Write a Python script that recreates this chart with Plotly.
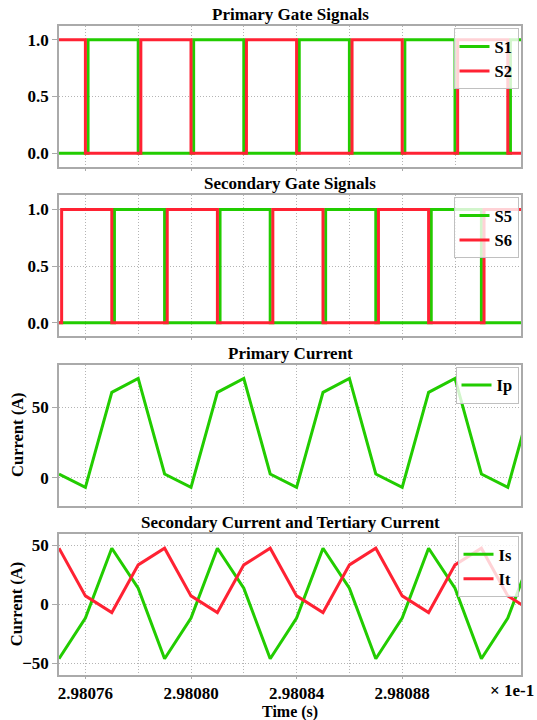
import plotly.graph_objects as go
from plotly.subplots import make_subplots

# ---------------- data (time in units of 1e-1 s) ----------------
# Primary gate signals (step transitions)
t_s1 = [2.98075, 2.980761, 2.98078, 2.980801, 2.98082, 2.980841, 2.98086,
        2.980881, 2.98090, 2.980921, 2.98093]
s1 = [0, 1, 0, 1, 0, 1, 0, 1, 0, 1, 1]
t_s2 = [2.98075, 2.98076, 2.980781, 2.98080, 2.980821, 2.98084, 2.980861,
        2.98088, 2.980901, 2.98092, 2.98093]
s2 = [1, 0, 1, 0, 1, 0, 1, 0, 1, 0, 0]

# Secondary gate signals
t_s5 = [2.98075, 2.980771, 2.98079, 2.980811, 2.98083, 2.980851, 2.98087,
        2.980891, 2.98091, 2.98093]
s5 = [0, 1, 0, 1, 0, 1, 0, 1, 0, 0]
t_s6 = [2.98075, 2.980751, 2.98077, 2.980791, 2.98081, 2.980831, 2.98085,
        2.980871, 2.98089, 2.980911, 2.98093]
s6 = [0, 1, 0, 1, 0, 1, 0, 1, 0, 1, 1]

# Currents sampled every 1e-5 (x 1e-1 s)
t_cur = [2.98075, 2.98076, 2.98077, 2.98078, 2.98079, 2.98080, 2.98081,
         2.98082, 2.98083, 2.98084, 2.98085, 2.98086, 2.98087, 2.98088,
         2.98089, 2.98090, 2.98091, 2.98092, 2.98093]
ip = [2.8, -6.6, 60.6, 70.5, 2.8, -6.6, 60.6, 70.5, 2.8, -6.6, 60.6, 70.5,
      2.8, -6.6, 60.6, 70.5, 2.8, -6.6, 60.6]
i_s = [-46.2, -11.8, 47.3, 13.5, -46.2, -11.8, 47.3, 13.5, -46.2, -11.8,
       47.3, 13.5, -46.2, -11.8, 47.3, 13.5, -46.2, -11.8, 47.3]
i_t = [47.3, 7.0, -7.1, 33.2, 47.3, 7.0, -7.1, 33.2, 47.3, 7.0, -7.1, 33.2,
       47.3, 7.0, -7.1, 33.2, 47.3, 7.0, -7.1]

x_tickvals = [2.98076, 2.98080, 2.98084, 2.98088]
x_ticktext = ["2.98076", "2.98080", "2.98084", "2.98088"]
x_minorvals = [2.98078, 2.98082, 2.98086, 2.98090]
gate_tickvals = [0, 0.5, 1]
gate_ticktext = ["0.0", "0.5", "1.0"]

titles = ["Primary Gate Signals", "Secondary Gate Signals",
          "Primary Current", "Secondary Current and Tertiary Current"]

GREEN = "#22cc00"
RED = "#ff2233"
FONT = "Liberation Serif"
GRID = "#b4b4b4"
FRAME = "#aaaaaa"

fig = make_subplots(rows=4, cols=1, shared_xaxes=True,
                    vertical_spacing=0.0437, subplot_titles=titles)

def add(x, y, name, color, row, legend, shape="linear"):
    fig.add_trace(go.Scatter(x=x, y=y, mode="lines", name=name,
                             line=dict(color=color, width=3, shape=shape),
                             legend=legend), row=row, col=1)

add(t_s1, s1, "S1", GREEN, 1, "legend", "hv")
add(t_s2, s2, "S2", RED, 1, "legend", "hv")
add(t_s5, s5, "S5", GREEN, 2, "legend2", "hv")
add(t_s6, s6, "S6", RED, 2, "legend2", "hv")
add(t_cur, ip, "Ip", GREEN, 3, "legend3")
add(t_cur, i_s, "Is", GREEN, 4, "legend4")
add(t_cur, i_t, "It", RED, 4, "legend4")

bold = dict(family=FONT, size=17, color="black", weight="bold")
bold_ax = dict(family=FONT, size=16.5, color="black", weight="bold")
bold_leg = dict(family=FONT, size=16.5, color="black", weight="bold")

for r in range(1, 5):
    fig.update_xaxes(
        range=[2.98075, 2.980925], tickmode="array", tickvals=x_tickvals,
        ticktext=x_ticktext, showticklabels=(r == 4), automargin=False,
        showline=True, mirror=True, linecolor=FRAME, linewidth=1.5,
        showgrid=True, gridcolor=GRID, griddash="1px,2px", gridwidth=1,
        ticks="outside", ticklen=2, tickcolor=FRAME, tickwidth=1,
        zeroline=False, tickfont=bold,
        minor=dict(tickmode="array", tickvals=x_minorvals, showgrid=True,
                   gridcolor=GRID, griddash="1px,2px", gridwidth=1, ticks=""),
        row=r, col=1)
    fig.update_yaxes(
        showline=True, mirror=True, linecolor=FRAME, linewidth=1.5,
        showgrid=True, gridcolor=GRID, griddash="1px,2px", gridwidth=1,
        ticks="outside", ticklen=5, tickcolor=FRAME, tickwidth=1,
        zeroline=False, tickfont=bold, automargin=False, row=r, col=1)

fig.update_yaxes(range=[-0.12, 1.12], tickmode="array", tickvals=gate_tickvals,
                 ticktext=gate_ticktext, row=1, col=1)
fig.update_yaxes(range=[-0.12, 1.125], tickmode="array", tickvals=gate_tickvals,
                 ticktext=gate_ticktext, row=2, col=1)
fig.update_yaxes(range=[-19.6, 80.2], tickmode="array", tickvals=[0, 50],
                 row=3, col=1)
fig.update_yaxes(range=[-59.9, 59.3], tickmode="array", tickvals=[-50, 0, 50],
                 row=4, col=1)

for a in fig.layout.annotations:
    a.font = bold

# x axis title placed as a label just below the tick labels
fig.add_annotation(text="Time (s)", xref="x4 domain", x=0.5, xanchor="center",
                   yref="paper", y=-0.0570, yanchor="middle", showarrow=False,
                   font=dict(bold_ax, size=16))

# y axis titles as rotated labels
for ax in ["y3", "y4"]:
    fig.add_annotation(text="Current (A)", textangle=-90, xref="paper",
                       x=-0.0915, xanchor="center", yref=ax + " domain",
                       y=0.5, yanchor="middle", showarrow=False, font=bold_ax)

fig.add_annotation(text="× 1e-1", xref="paper", x=1.0325, xanchor="right",
                   yref="paper", y=-0.0245, yanchor="middle", showarrow=False,
                   font=bold)

leg = dict(xanchor="right", x=0.9946, yanchor="top", bgcolor="rgba(255,255,255,0.8)",
           bordercolor="#c0c0c0", borderwidth=1, font=bold_leg, itemwidth=30,
           tracegroupgap=0)

fig.update_layout(
    width=537, height=720,
    margin=dict(l=59, r=16, t=26, b=45, autoexpand=False),
    paper_bgcolor="white", plot_bgcolor="white",
    font=dict(family=FONT, size=17, color="black"),
    showlegend=True,
    legend=dict(leg, y=0.9965),
    legend2=dict(leg, y=0.7361),
    legend3=dict(leg, y=0.4750),
    legend4=dict(leg, y=0.2142),
)

fig.write_html("out.html", config={"displayModeBar": False},
               post_script="document.body.style.margin='0';document.body.style.overflow='hidden';")
